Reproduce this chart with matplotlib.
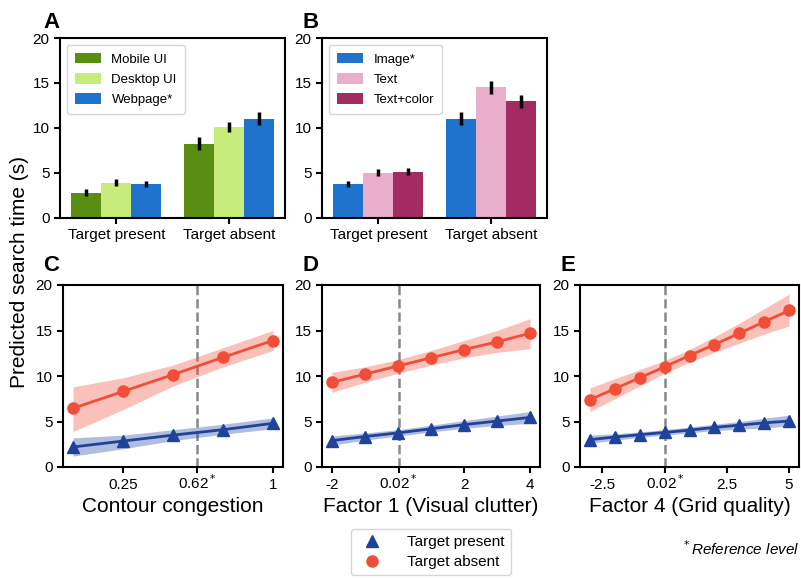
import matplotlib.pyplot as plt
import numpy as np

plt.rcParams['font.family'] = ['Liberation Sans', 'DejaVu Sans']

# --- data -------------------------------------------------------------
groups = ["Target present", "Target absent"]

ui_labels = ["Mobile UI", "Desktop UI", "Webpage*"]
ui_means = [[2.8, 3.9, 3.8], [8.25, 10.15, 11.05]]
ui_err = [[0.4, 0.4, 0.35], [0.7, 0.55, 0.7]]

vis_labels = ["Image*", "Text", "Text+color"]
vis_means = [[3.8, 5.05, 5.15], [11.05, 14.5, 12.95]]
vis_err = [[0.35, 0.4, 0.35], [0.7, 0.75, 0.75]]

c_x = [0, 0.25, 0.5, 0.75, 1]
c_present = [2.2, 2.85, 3.5, 4.1, 4.8]
c_present_lo = [1.2, 2.0, 2.9, 3.6, 4.2]
c_present_hi = [3.2, 3.5, 4.1, 4.7, 5.4]
c_absent = [6.45, 8.3, 10.15, 12.05, 13.9]
c_absent_lo = [3.9, 6.3, 8.9, 11.0, 12.8]
c_absent_hi = [8.8, 9.8, 11.2, 13.1, 15.0]

d_x = [-2, -1, 0, 1, 2, 3, 4]
d_present = [2.9, 3.35, 3.75, 4.2, 4.65, 5.05, 5.45]
d_present_lo = [2.4, 2.95, 3.4, 3.85, 4.25, 4.55, 4.8]
d_present_hi = [3.4, 3.75, 4.1, 4.6, 5.1, 5.6, 6.1]
d_absent = [9.3, 10.2, 11.1, 12.0, 12.9, 13.75, 14.7]
d_absent_lo = [8.2, 9.3, 10.3, 11.2, 12.0, 12.6, 13.0]
d_absent_hi = [10.4, 11.0, 11.8, 12.8, 13.9, 15.0, 16.3]

e_x = [-3, -2, -1, 0, 1, 2, 3, 4, 5]
e_present = [3.0, 3.3, 3.55, 3.8, 4.05, 4.35, 4.6, 4.85, 5.05]
e_present_lo = [2.6, 2.95, 3.25, 3.5, 3.75, 4.0, 4.15, 4.3, 4.5]
e_present_hi = [3.5, 3.65, 3.85, 4.1, 4.4, 4.7, 5.0, 5.35, 5.7]
e_absent = [7.4, 8.6, 9.8, 11.0, 12.25, 13.45, 14.7, 15.95, 17.2]
e_absent_lo = [6.1, 7.5, 8.9, 10.3, 11.5, 12.6, 13.6, 14.6, 15.5]
e_absent_hi = [8.7, 9.7, 10.7, 11.7, 12.9, 14.3, 15.8, 17.4, 19.0]

# --- styles -----------------------------------------------------------
ui_colors = ["#5a8e13", "#c8ec7b", "#1f73cc"]
vis_colors = ["#1f73cc", "#e8aecb", "#a22b62"]
red = "#f04e37"
navy = "#1f439b"

W, H = 801, 579
fig = plt.figure(figsize=(W / 100, H / 100), dpi=100)


def px_axes(left, top, right, bottom):
    return fig.add_axes([left / W, 1 - bottom / H, (right - left) / W, (bottom - top) / H])


def style(ax):
    for s in ax.spines.values():
        s.set_linewidth(1.5)
    ax.tick_params(labelsize=11, width=1.5, length=4)
    ax.set_ylim(0, 20)
    ax.set_yticks([0, 5, 10, 15, 20])


def bars(ax, labels, means, errs, colors):
    w = 0.8 / 3
    x = np.arange(len(groups))
    for i, lab in enumerate(labels):
        vals = [m[i] for m in means]
        ee = [e[i] for e in errs]
        ax.bar(x + (i - 1) * w, vals, w, color=colors[i], label=lab)
        ax.errorbar(x + (i - 1) * w, vals, yerr=ee, fmt='none', ecolor='black',
                    elinewidth=2.5, capsize=0)
    ax.set_xticks(x)
    ax.set_xticklabels(groups)
    ax.set_xlim(-0.5, 1.5)
    style(ax)
    ax.legend(loc='upper left', fontsize=9.5, handlelength=2.0, handleheight=0.9,
              borderpad=0.6, labelspacing=0.55, handletextpad=0.8)


def lines(ax, x, pres, plo, phi, absn, alo, ahi, ref, ticks, ticklabels, xlabel):
    ax.fill_between(x, alo, ahi, color=red, alpha=0.35, lw=0)
    ax.fill_between(x, plo, phi, color=navy, alpha=0.35, lw=0)
    ax.plot(x, absn, '-o', color=red, lw=2, ms=8)
    ax.plot(x, pres, '-^', color=navy, lw=2, ms=8)
    ax.axvline(ref, color='#888888', ls='--', lw=1.8, zorder=0)
    ax.set_xticks(ticks)
    ax.set_xticklabels(ticklabels)
    ax.set_xlabel(xlabel, fontsize=15)
    ax.margins(x=0.05)
    style(ax)
    # align labels on their baseline so the starred label sits level
    ax.tick_params(axis='x', pad=11.5)
    for lbl in ax.get_xticklabels():
        lbl.set_va('baseline')


axA = px_axes(60, 38, 285, 218)
bars(axA, ui_labels, ui_means, ui_err, ui_colors)
axB = px_axes(322, 38, 547, 218)
bars(axB, vis_labels, vis_means, vis_err, vis_colors)

axC = px_axes(63, 285, 283, 467)
lines(axC, c_x, c_present, c_present_lo, c_present_hi, c_absent, c_absent_lo, c_absent_hi,
      0.62, [0.25, 0.62, 1], ["0.25", "0.62$^*$", "1"], "Contour congestion")
axD = px_axes(322, 285, 540, 467)
lines(axD, d_x, d_present, d_present_lo, d_present_hi, d_absent, d_absent_lo, d_absent_hi,
      0.02, [-2, 0.02, 2, 4], ["-2", "0.02$^*$", "2", "4"], "Factor 1 (Visual clutter)")
axE = px_axes(580, 285, 799, 467)
lines(axE, e_x, e_present, e_present_lo, e_present_hi, e_absent, e_absent_lo, e_absent_hi,
      0.02, [-2.5, 0.02, 2.5, 5], ["-2.5", "0.02$^*$", "2.5", "5"], "Factor 4 (Grid quality)")

# panel letters
for lab, (px, py) in zip("ABCDE", [(43, 12), (303, 12), (43, 255), (302, 255), (561, 255)]):
    fig.text(px / W, 1 - py / H, lab, fontsize=16, fontweight='bold', va='top', ha='left')

fig.text(20 / W, 1 - 272 / H, "Predicted search time (s)", rotation=90,
         fontsize=15, ha='center', va='center')

h1 = plt.Line2D([], [], color=navy, marker='^', ls='none', ms=8)
h2 = plt.Line2D([], [], color=red, marker='o', ls='none', ms=8)
fig.legend([h1, h2], ["Target present", "Target absent"], loc='center',
           bbox_to_anchor=(431 / W, 1 - 552 / H), fontsize=11, handletextpad=1.3,
           borderpad=0.4, labelspacing=0.4)

fig.text(799 / W, 1 - 549 / H, "$^*$Reference level", ha='right', va='center',
         fontsize=11, style='italic')

fig.savefig("out.png", dpi=100)
